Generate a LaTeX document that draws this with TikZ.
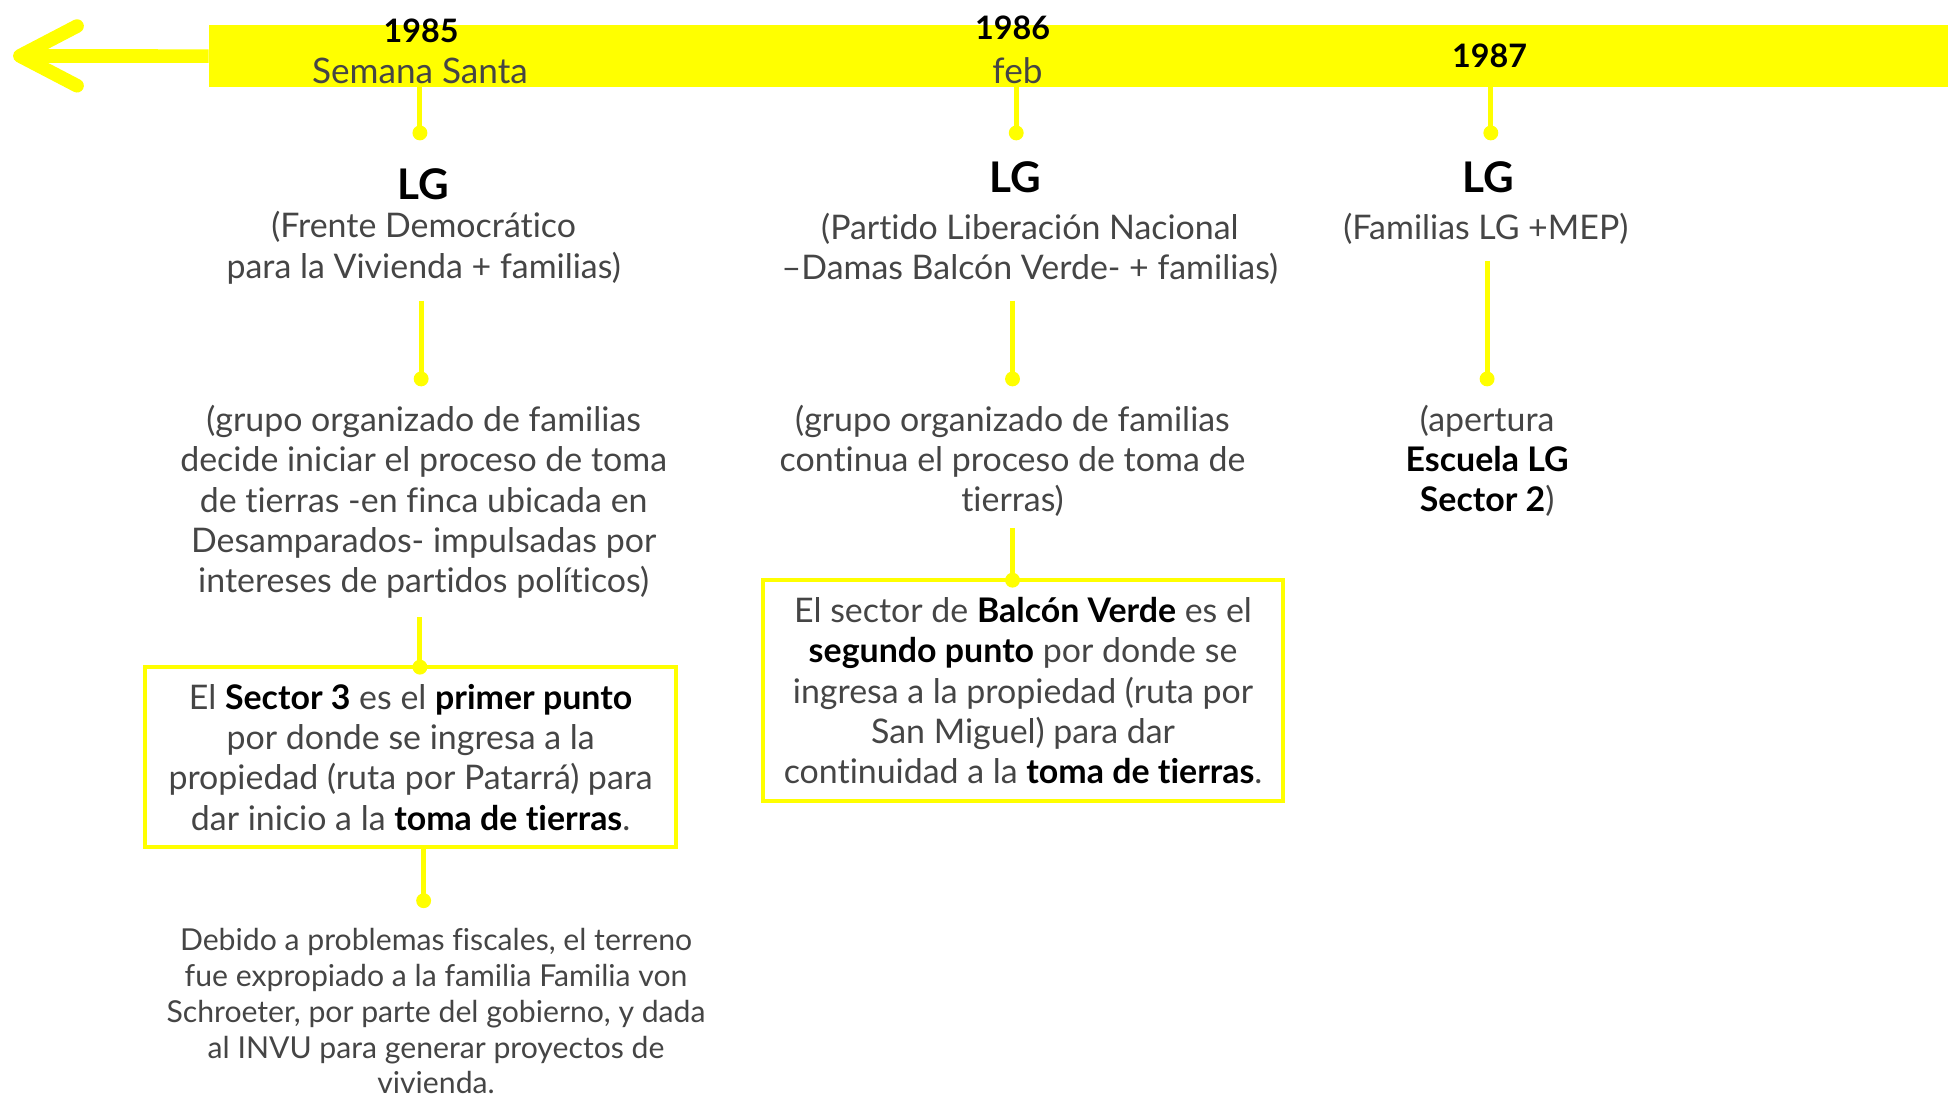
\documentclass[tikz,border=0pt]{standalone}
\usepackage{fontspec}
\setmainfont{Lato}[Ligatures=NoCommon]
\usetikzlibrary{calc}
\definecolor{ylw}{HTML}{FFFF00}
\definecolor{txt}{HTML}{454545}
\newcommand\bk[1]{{\bfseries\color{black}#1}}
\begin{document}
\begin{tikzpicture}[x=1pt,y=-1pt,
  conn/.style={draw=ylw,line width=4pt},
  dotn/.style={circle,fill=ylw,inner sep=0pt,minimum size=12pt},
  body/.style={text=txt,align=center,inner sep=0pt,font=\fontsize{27.3}{32.5}\selectfont},
  datel/.style={text=txt,inner sep=0pt,font=\fontsize{28.3}{32.5}\selectfont},
  small/.style={text=txt,align=center,inner sep=0pt,font=\fontsize{24.3}{28.8}\selectfont},
  year/.style={inner sep=0pt,font=\bfseries\fontsize{26}{30}\selectfont},
  lg/.style={inner sep=0pt,font=\bfseries\fontsize{34}{40}\selectfont},
  boxn/.style={body,draw=ylw,line width=3pt}]
\useasboundingbox (0,0) rectangle (1568,885);
% timeline band and arrow
\node[fill=ylw,inner sep=0pt,minimum width=1400pt,minimum height=50pt,anchor=north west] (band) at (168,20) {};
\coordinate (tip) at (16,45);
\draw[ylw,line width=11pt] (tip) -- (band.west);
\draw[ylw,line width=11pt,line cap=round,line join=round] (62,21) -- (tip) -- (62,69);
% years
\node[year] (y1) at (339,25) {1985};
\node[datel] (s1) at (338,57) {Semana Santa};
\node[year] (y2) at (815,22) {1986};
\node[datel] (s2) at (819,57) {feb};
\node[year] (y3) at (1199,45) {1987};
% stems from band
\node[dotn] (d1a) at (338,107) {};
\node[dotn] (d2a) at (818,107) {};
\node[dotn] (d3a) at (1200,107) {};
\draw[conn] (band.south -| d1a) -- (d1a.center);
\draw[conn] (band.south -| d2a) -- (d2a.center);
\draw[conn] (band.south -| d3a) -- (d3a.center);
% LG titles
\node[lg] (l1) at (341,148) {LG};
\node[lg] (l2) at (817,143) {LG};
\node[lg] (l3) at (1198,143) {LG};
\node[body] (t1) at (341,199.5) {(Frente Democrático\\para la Vivienda + familias)};
\node[body] (t2) at (829,200.5) {(Partido Liberación Nacional\\–Damas Balcón Verde- + familias)};
\node[body] (t3) at (1196,184) {(Familias LG +MEP)};
% second connectors
\coordinate (c1b) at (339,242);
\coordinate (c2b) at (815,242);
\coordinate (c3b) at (1197,210);
\node[dotn] (d1b) at (339,305) {};
\node[dotn] (d2b) at (815,305) {};
\node[dotn] (d3b) at (1197,305) {};
\draw[conn] (c1b) -- (d1b.center);
\draw[conn] (c2b) -- (d2b.center);
\draw[conn] (c3b) -- (d3b.center);
% paragraphs
\node[body] (p1) at (341,404) {(grupo organizado de familias\\decide iniciar el proceso de toma\\de tierras -en finca ubicada en\\Desamparados- impulsadas por\\intereses de partidos políticos)};
\node[body] (p2) at (815,371) {(grupo organizado de familias\\continua el proceso de toma de\\tierras)};
\node[body] (p3) at (1197,371) {(apertura\\\bk{Escuela LG}\\\bk{Sector 2})};
% boxes
\node[boxn,minimum width=427pt,minimum height=145pt] (b1) at (330.5,609.5) {El \bk{Sector 3} es el \bk{primer punto}\\por donde se ingresa a la\\propiedad (ruta por Patarrá) para\\dar inicio a la \bk{toma de tierras}.};
\node[boxn,minimum width=419pt,minimum height=178pt] (b2) at (823.5,556) {El sector de \bk{Balcón Verde} es el\\\bk{segundo punto} por donde se\\ingresa a la propiedad (ruta por\\San Miguel) para dar\\continuidad a la \bk{toma de tierras}.};
\coordinate (c1c) at (338,497);
\coordinate (c2c) at (815,425);
\node[dotn] (d1c) at (338,537) {};
\node[dotn] (d2c) at (815,467) {};
\draw[conn] (c1c) -- (d1c.center);
\draw[conn] (c2c) -- (d2c.center);
% bottom
\node[dotn] (d1d) at (341,725) {};
\draw[conn] (b1.south -| d1d) -- (d1d.center);
\node[small] (q1) at (351,814) {Debido a problemas fiscales, el terreno\\fue expropiado a la familia Familia von\\Schroeter, por parte del gobierno, y dada\\al INVU para generar proyectos de\\vivienda.};
\end{tikzpicture}
\end{document}
